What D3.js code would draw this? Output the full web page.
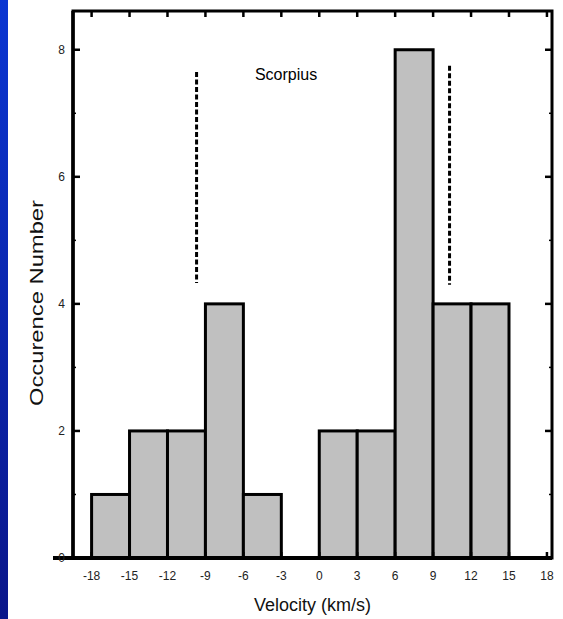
<!DOCTYPE html>
<html>
<head>
<meta charset="utf-8">
<script src="https://cdn.jsdelivr.net/npm/d3@7"></script>
<style>
  body { margin: 0; background: #ffffff; }
</style>
</head>
<body>
<script>
const binStarts = [-18, -15, -12, -9, -6, -3, 0, 3, 6, 9, 12];
const binCounts = [1, 2, 2, 4, 1, 0, 2, 2, 8, 4, 4];
const binWidth = 3;
const xTicks = [-18, -15, -12, -9, -6, -3, 0, 3, 6, 9, 12, 15, 18];
const yMajorTicks = [0, 2, 4, 6, 8];
const yMinorTicks = [1, 3, 5, 7];
const dashedMarkers = [
  { x: -9.7, from: 4.33, to: 7.65 },
  { x: 10.3, from: 4.3, to: 7.75 },
];
const titleText = "Scorpius";

const width = 563;
const height = 619;
const plotLeft = 73, plotRight = 552, plotTop = 11, plotBottom = 558;

const svg = d3
  .select("body")
  .append("svg")
  .attr("width", width)
  .attr("height", height)
  .style("display", "block");

const defs = svg.append("defs");
const grad = defs
  .append("linearGradient")
  .attr("id", "strip")
  .attr("x1", 0).attr("y1", 0)
  .attr("x2", 0).attr("y2", 1);
grad.append("stop").attr("offset", "0%").attr("stop-color", "#0a36d2");
grad.append("stop").attr("offset", "100%").attr("stop-color", "#0a168a");

svg.append("rect")
  .attr("x", 0).attr("y", 0)
  .attr("width", 8).attr("height", height)
  .attr("fill", "url(#strip)");

const x = d3.scaleLinear().domain([-19.47, 18.4]).range([plotLeft, plotRight]);
const y = d3.scaleLinear().domain([0, 8.61]).range([plotBottom, plotTop]);

// bars
svg.append("g")
  .selectAll("rect")
  .data(binStarts.map((s, i) => ({ s, c: binCounts[i] })).filter(d => d.c > 0))
  .join("rect")
  .attr("x", d => x(d.s))
  .attr("y", d => y(d.c))
  .attr("width", d => x(d.s + binWidth) - x(d.s))
  .attr("height", d => y(0) - y(d.c))
  .attr("fill", "#c0c0c0")
  .attr("stroke", "#000")
  .attr("stroke-width", 3);

// dashed markers
svg.append("g")
  .selectAll("line")
  .data(dashedMarkers)
  .join("line")
  .attr("x1", d => x(d.x)).attr("x2", d => x(d.x))
  .attr("y1", d => y(d.to)).attr("y2", d => y(d.from))
  .attr("stroke", "#000")
  .attr("stroke-width", 3)
  .attr("stroke-dasharray", "5,2.5");

// frame
svg.append("rect")
  .attr("x", plotLeft).attr("y", plotTop)
  .attr("width", plotRight - plotLeft).attr("height", plotBottom - plotTop)
  .attr("fill", "none")
  .attr("stroke", "#000")
  .attr("stroke-width", 3);
svg.append("line")
  .attr("x1", 53).attr("x2", plotRight)
  .attr("y1", plotBottom).attr("y2", plotBottom)
  .attr("stroke", "#000").attr("stroke-width", 4);
svg.append("line")
  .attr("x1", plotLeft).attr("x2", plotLeft)
  .attr("y1", plotTop).attr("y2", plotBottom)
  .attr("stroke", "#000").attr("stroke-width", 3.5);

// inward ticks
const ticks = svg.append("g").attr("stroke", "#000").attr("stroke-width", 2.5);
xTicks.forEach(v => {
  ticks.append("line").attr("x1", x(v)).attr("x2", x(v)).attr("y1", plotTop).attr("y2", plotTop + 6);
  ticks.append("line").attr("x1", x(v)).attr("x2", x(v)).attr("y1", plotBottom).attr("y2", plotBottom - 6);
});
yMajorTicks.forEach(v => {
  ticks.append("line").attr("x1", plotLeft).attr("x2", plotLeft + 7).attr("y1", y(v)).attr("y2", y(v));
  ticks.append("line").attr("x1", plotRight).attr("x2", plotRight - 7).attr("y1", y(v)).attr("y2", y(v));
});
yMinorTicks.forEach(v => {
  ticks.append("line").attr("x1", plotLeft).attr("x2", plotLeft + 3).attr("y1", y(v)).attr("y2", y(v)).attr("stroke-width", 1.5);
  ticks.append("line").attr("x1", plotRight).attr("x2", plotRight - 3).attr("y1", y(v)).attr("y2", y(v)).attr("stroke-width", 1.5);
});

const font = "'Liberation Sans', Arial, sans-serif";

// tick labels
svg.append("g")
  .selectAll("text")
  .data(xTicks)
  .join("text")
  .attr("x", d => x(d))
  .attr("y", 580)
  .attr("text-anchor", "middle")
  .attr("font-family", font)
  .attr("font-size", 12)
  .attr("fill", "#222")
  .text(d => d);

svg.append("g")
  .selectAll("text")
  .data(yMajorTicks)
  .join("text")
  .attr("x", 65)
  .attr("y", d => y(d) + 4)
  .attr("text-anchor", "end")
  .attr("font-family", font)
  .attr("font-size", 12)
  .attr("fill", "#222")
  .text(d => d);

// title
svg.append("text")
  .attr("x", 286)
  .attr("y", 80)
  .attr("text-anchor", "middle")
  .attr("font-family", font)
  .attr("font-size", 16)
  .attr("fill", "#000")
  .text(titleText);

// axis labels
svg.append("text")
  .attr("x", (plotLeft + plotRight) / 2)
  .attr("y", 611)
  .attr("text-anchor", "middle")
  .attr("font-family", font)
  .attr("font-size", 18)
  .attr("fill", "#111")
  .text("Velocity (km/s)");

svg.append("text")
  .attr("transform", "translate(43,303) rotate(-90)")
  .attr("text-anchor", "middle")
  .attr("font-family", font)
  .attr("font-size", 18)
  .attr("textLength", 206)
  .attr("lengthAdjust", "spacingAndGlyphs")
  .attr("fill", "#111")
  .text("Occurence Number");
</script>
</body>
</html>
